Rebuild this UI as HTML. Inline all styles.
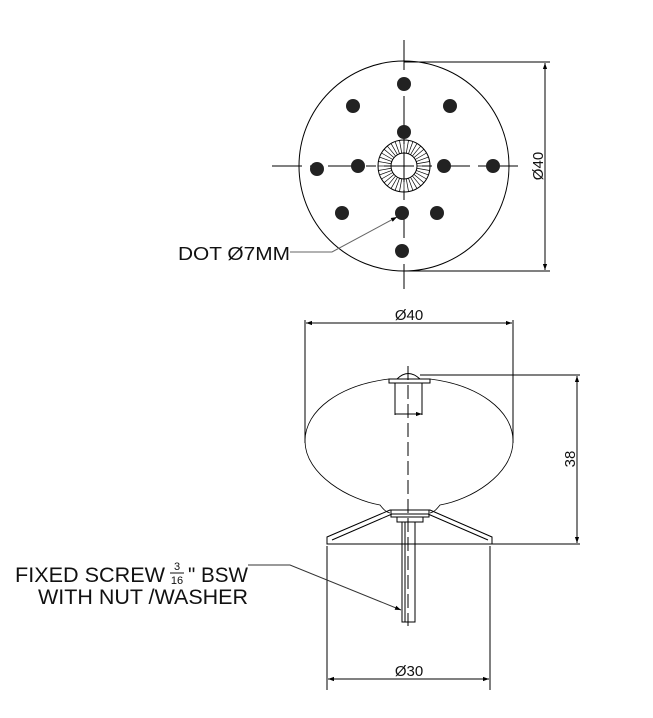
<!DOCTYPE html>
<html><head><meta charset="utf-8"><style>body{margin:0;background:#fff}svg{display:block}</style></head><body>
<svg width="653" height="718" viewBox="0 0 653 718" xmlns="http://www.w3.org/2000/svg" font-family="Liberation Sans, sans-serif">
<defs>
<marker id="a" viewBox="0 0 10 10" refX="10" refY="5" markerWidth="10" markerHeight="6" orient="auto-start-reverse" markerUnits="userSpaceOnUse"><path d="M0,1.5L10,5L0,8.5z" fill="#000"/></marker>
</defs>
<g stroke="#000" fill="none" stroke-width="1">
<circle cx="404" cy="166" r="105"/>
<line x1="404" y1="40" x2="404" y2="289" stroke-dasharray="30,8,10,8"/>
<line x1="272" y1="166" x2="518" y2="166" stroke-dasharray="30,8,10,8"/>
<circle cx="404" cy="166" r="26"/>
<circle cx="404" cy="166" r="13"/>
<line x1="404" y1="62" x2="550" y2="62"/>
<line x1="404" y1="271" x2="550" y2="271"/>
<line x1="545" y1="63" x2="545" y2="270" marker-start="url(#a)" marker-end="url(#a)"/>
<polyline points="290,252 332,252 397,217" stroke="#666" marker-end="url(#a)"/>
<line x1="305" y1="320" x2="305" y2="443"/>
<line x1="513" y1="320" x2="513" y2="443"/>
<line x1="306" y1="323" x2="512" y2="323" marker-start="url(#a)" marker-end="url(#a)"/>
<path d="M389,379 C340,385 305,410 305,441 C305,475 350,500 380,505 C384,510 386,512 390,513 M430,379 C478,385 513,410 513,441 C513,475 470,500 440,505 C436,510 434,512 430,513" stroke-width="0.8"/>
<rect x="389" y="379" width="41" height="4"/>
<path d="M397,379 Q408,368 420,379"/>
<line x1="395" y1="383" x2="395" y2="415"/>
<line x1="422" y1="383" x2="422" y2="415"/>
<line x1="395" y1="414" x2="422" y2="414" marker-end="url(#a)"/>
<line x1="408" y1="366" x2="408" y2="626" stroke-dasharray="14,5"/>
<line x1="420" y1="375" x2="580" y2="375"/>
<path d="M327,544 L327,537 L390,510 L430,510 L492,537 L492,544 Z M332,540 L392,514 L428,514 L488,540"/>
<line x1="327" y1="544" x2="580" y2="544"/>
<rect x="391" y="510" width="38" height="7"/>
<rect x="397" y="517" width="26" height="5"/>
<rect x="402" y="522" width="13" height="100"/>
<line x1="405" y1="522" x2="405" y2="622"/>
<line x1="577" y1="376" x2="577" y2="543" marker-start="url(#a)" marker-end="url(#a)"/>
<line x1="327" y1="546" x2="327" y2="690"/>
<line x1="490" y1="546" x2="490" y2="690"/>
<line x1="328" y1="679" x2="489" y2="679" marker-start="url(#a)" marker-end="url(#a)"/>
<polyline points="248,565 290,565 401,610" stroke="#333" marker-end="url(#a)"/>
</g>
<g fill="#222">
<circle cx="404" cy="84" r="7"/><circle cx="353" cy="106" r="7"/><circle cx="450" cy="106" r="7"/>
<circle cx="404" cy="132" r="7"/><circle cx="317" cy="169" r="7"/><circle cx="358" cy="166" r="7"/>
<circle cx="444" cy="166" r="7"/><circle cx="493" cy="166" r="7"/><circle cx="342" cy="213" r="7"/>
<circle cx="402" cy="213" r="7"/><circle cx="437" cy="213" r="7"/><circle cx="402" cy="251" r="7"/>
</g>
<g stroke="#000" stroke-width="0.7">
<line x1="417" y1="166" x2="430" y2="166" transform="rotate(0 404 166)"/>
<line x1="417" y1="166" x2="430" y2="166" transform="rotate(10 404 166)"/>
<line x1="417" y1="166" x2="430" y2="166" transform="rotate(20 404 166)"/>
<line x1="417" y1="166" x2="430" y2="166" transform="rotate(30 404 166)"/>
<line x1="417" y1="166" x2="430" y2="166" transform="rotate(40 404 166)"/>
<line x1="417" y1="166" x2="430" y2="166" transform="rotate(50 404 166)"/>
<line x1="417" y1="166" x2="430" y2="166" transform="rotate(60 404 166)"/>
<line x1="417" y1="166" x2="430" y2="166" transform="rotate(70 404 166)"/>
<line x1="417" y1="166" x2="430" y2="166" transform="rotate(80 404 166)"/>
<line x1="417" y1="166" x2="430" y2="166" transform="rotate(90 404 166)"/>
<line x1="417" y1="166" x2="430" y2="166" transform="rotate(100 404 166)"/>
<line x1="417" y1="166" x2="430" y2="166" transform="rotate(110 404 166)"/>
<line x1="417" y1="166" x2="430" y2="166" transform="rotate(120 404 166)"/>
<line x1="417" y1="166" x2="430" y2="166" transform="rotate(130 404 166)"/>
<line x1="417" y1="166" x2="430" y2="166" transform="rotate(140 404 166)"/>
<line x1="417" y1="166" x2="430" y2="166" transform="rotate(150 404 166)"/>
<line x1="417" y1="166" x2="430" y2="166" transform="rotate(160 404 166)"/>
<line x1="417" y1="166" x2="430" y2="166" transform="rotate(170 404 166)"/>
<line x1="417" y1="166" x2="430" y2="166" transform="rotate(180 404 166)"/>
<line x1="417" y1="166" x2="430" y2="166" transform="rotate(190 404 166)"/>
<line x1="417" y1="166" x2="430" y2="166" transform="rotate(200 404 166)"/>
<line x1="417" y1="166" x2="430" y2="166" transform="rotate(210 404 166)"/>
<line x1="417" y1="166" x2="430" y2="166" transform="rotate(220 404 166)"/>
<line x1="417" y1="166" x2="430" y2="166" transform="rotate(230 404 166)"/>
<line x1="417" y1="166" x2="430" y2="166" transform="rotate(240 404 166)"/>
<line x1="417" y1="166" x2="430" y2="166" transform="rotate(250 404 166)"/>
<line x1="417" y1="166" x2="430" y2="166" transform="rotate(260 404 166)"/>
<line x1="417" y1="166" x2="430" y2="166" transform="rotate(270 404 166)"/>
<line x1="417" y1="166" x2="430" y2="166" transform="rotate(280 404 166)"/>
<line x1="417" y1="166" x2="430" y2="166" transform="rotate(290 404 166)"/>
<line x1="417" y1="166" x2="430" y2="166" transform="rotate(300 404 166)"/>
<line x1="417" y1="166" x2="430" y2="166" transform="rotate(310 404 166)"/>
<line x1="417" y1="166" x2="430" y2="166" transform="rotate(320 404 166)"/>
<line x1="417" y1="166" x2="430" y2="166" transform="rotate(330 404 166)"/>
<line x1="417" y1="166" x2="430" y2="166" transform="rotate(340 404 166)"/>
<line x1="417" y1="166" x2="430" y2="166" transform="rotate(350 404 166)"/>
</g>
<g fill="#111">
<text x="178" y="260" font-size="18" textLength="112" lengthAdjust="spacingAndGlyphs">DOT Ø7MM</text>
<text x="543" y="166" font-size="15" text-anchor="middle" transform="rotate(-90 543 166)">Ø40</text>
<text x="409" y="320" font-size="15" text-anchor="middle">Ø40</text>
<text x="575" y="459" font-size="15" text-anchor="middle" transform="rotate(-90 575 459)">38</text>
<text x="409" y="676" font-size="15" text-anchor="middle">Ø30</text>
<text x="15" y="582" font-size="21" textLength="150" lengthAdjust="spacingAndGlyphs">FIXED SCREW</text>
<text x="177" y="570" font-size="11" text-anchor="middle">3</text>
<line x1="170" y1="573" x2="184" y2="573" stroke="#111" stroke-width="1"/>
<text x="177" y="584" font-size="11" text-anchor="middle">16</text>
<text x="188" y="582" font-size="21" textLength="60" lengthAdjust="spacingAndGlyphs">" BSW</text>
<text x="38" y="604" font-size="21" textLength="210" lengthAdjust="spacingAndGlyphs">WITH NUT /WASHER</text>
</g>
</svg>
</body></html>
